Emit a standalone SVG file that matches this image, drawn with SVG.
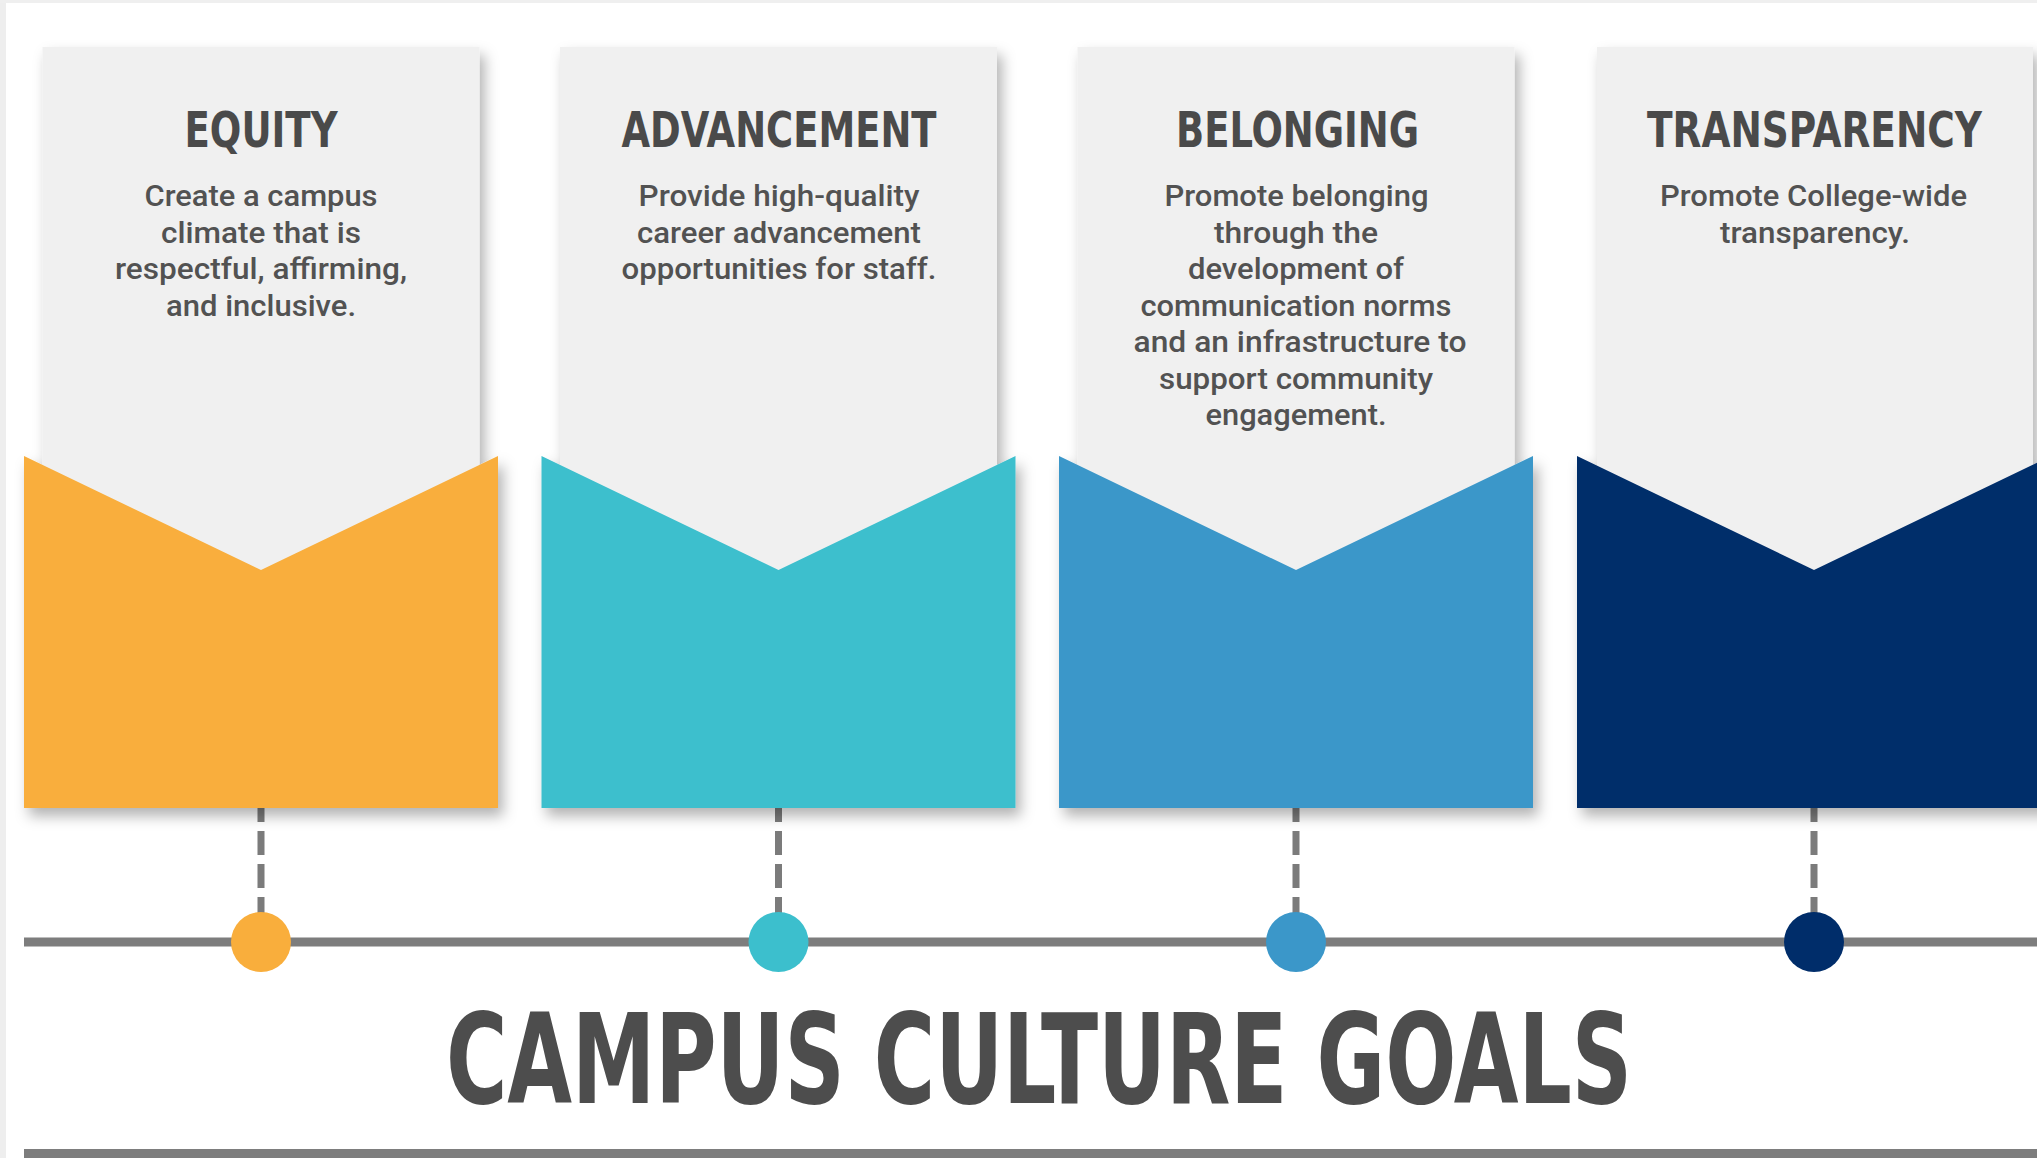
<svg xmlns="http://www.w3.org/2000/svg" width="2037" height="1158" viewBox="0 0 2037 1158">
<style>
.panel{fill:#f0f0f0}
.head{font-family:"DejaVu Sans Condensed","Liberation Sans Narrow","DejaVu Sans",sans-serif;font-stretch:condensed;font-weight:bold;font-size:49px;fill:#4a4a4a;text-anchor:middle}
.body{font-family:Roboto,"Liberation Sans",sans-serif;font-weight:500;font-size:30px;fill:#525252;text-anchor:middle}
.title{font-family:"DejaVu Sans Condensed","Liberation Sans Narrow","DejaVu Sans",sans-serif;font-stretch:condensed;font-weight:bold;font-size:124px;fill:#4d4d4d}
.dash{stroke:#7b7b7b;stroke-width:7;stroke-dasharray:24 9;fill:none}
.rule{stroke:#7d7d7d;stroke-width:9;fill:none}
</style>
<defs>
<filter id="sh" x="-10%" y="-10%" width="125%" height="125%">
<feDropShadow dx="5" dy="8" stdDeviation="7" flood-color="#000" flood-opacity="0.3"/>
</filter>
</defs>
<rect x="0" y="0" width="2037" height="1158" fill="#ffffff"/>
<rect x="0" y="0" width="6" height="1158" fill="#eeeeee"/>
<rect x="0" y="0" width="2037" height="3" fill="#efefef"/>

<g id="connectors">
<line class="dash" x1="261" y1="798" x2="261" y2="930"/>
<line class="dash" x1="778.5" y1="798" x2="778.5" y2="930"/>
<line class="dash" x1="1296" y1="798" x2="1296" y2="930"/>
<line class="dash" x1="1814" y1="798" x2="1814" y2="930"/>
<line class="rule" x1="24" y1="942" x2="2037" y2="942"/>
<line class="rule" x1="24" y1="1153.5" x2="2037" y2="1153.5" stroke-width="10"/>
</g>

<g id="dots">
<circle cx="261" cy="942" r="30" fill="#f9ae3c"/>
<circle cx="778.5" cy="942" r="30" fill="#3cbfcd"/>
<circle cx="1296" cy="942" r="30" fill="#3b97c9"/>
<circle cx="1814" cy="942" r="30" fill="#002d6a"/>
</g>

<g id="equity" filter="url(#sh)">
<rect class="panel" x="42.5" y="47" width="437" height="600"/>
<polygon points="24,456 261,570 498,456 498,808 24,808" fill="#f9ae3c"/>
</g>
<g id="advancement" filter="url(#sh)">
<rect class="panel" x="560" y="47" width="437" height="600"/>
<polygon points="541.5,456 778.5,570 1015.5,456 1015.5,808 541.5,808" fill="#3cbfcd"/>
</g>
<g id="belonging" filter="url(#sh)">
<rect class="panel" x="1077.5" y="47" width="437" height="600"/>
<polygon points="1059,456 1296,570 1533,456 1533,808 1059,808" fill="#3b97c9"/>
</g>
<g id="transparency" filter="url(#sh)">
<rect class="panel" x="1597" y="47" width="436" height="600"/>
<polygon points="1577,456 1814,570 2051,456 2051,808 1577,808" fill="#002d6a"/>
</g>

<g id="equity-text">
<text class="head" x="261" y="147" textLength="153" lengthAdjust="spacingAndGlyphs">EQUITY</text>
<text class="body" x="261" y="206" textLength="233" lengthAdjust="spacingAndGlyphs">Create a campus</text>
<text class="body" x="261" y="242.5" textLength="200" lengthAdjust="spacingAndGlyphs">climate that is</text>
<text class="body" x="261" y="279" textLength="292" lengthAdjust="spacingAndGlyphs">respectful, affirming,</text>
<text class="body" x="261" y="315.5" textLength="190" lengthAdjust="spacingAndGlyphs">and inclusive.</text>
</g>
<g id="advancement-text">
<text class="head" x="779" y="147" textLength="315" lengthAdjust="spacingAndGlyphs">ADVANCEMENT</text>
<text class="body" x="779" y="206" textLength="281" lengthAdjust="spacingAndGlyphs">Provide high-quality</text>
<text class="body" x="779" y="242.5" textLength="284" lengthAdjust="spacingAndGlyphs">career advancement</text>
<text class="body" x="779" y="279" textLength="315" lengthAdjust="spacingAndGlyphs">opportunities for staff.</text>
</g>
<g id="belonging-text">
<text class="head" x="1297.5" y="147" textLength="243" lengthAdjust="spacingAndGlyphs">BELONGING</text>
<text class="body" x="1296.5" y="206" textLength="264" lengthAdjust="spacingAndGlyphs">Promote belonging</text>
<text class="body" x="1296" y="242.5" textLength="164" lengthAdjust="spacingAndGlyphs">through the</text>
<text class="body" x="1296" y="279" textLength="216" lengthAdjust="spacingAndGlyphs">development of</text>
<text class="body" x="1296" y="315.5" textLength="311" lengthAdjust="spacingAndGlyphs">communication norms</text>
<text class="body" x="1300" y="352" textLength="333" lengthAdjust="spacingAndGlyphs">and an infrastructure to</text>
<text class="body" x="1296" y="388.5" textLength="274" lengthAdjust="spacingAndGlyphs">support community</text>
<text class="body" x="1296" y="425" textLength="181" lengthAdjust="spacingAndGlyphs">engagement.</text>
</g>
<g id="transparency-text">
<text class="head" x="1814.5" y="147" textLength="335" lengthAdjust="spacingAndGlyphs">TRANSPARENCY</text>
<text class="body" x="1813.5" y="206" textLength="307" lengthAdjust="spacingAndGlyphs">Promote College-wide</text>
<text class="body" x="1815" y="242.5" textLength="190" lengthAdjust="spacingAndGlyphs">transparency.</text>
</g>

<g id="title">
<text class="title" x="446" y="1103" textLength="1186" lengthAdjust="spacingAndGlyphs">CAMPUS CULTURE GOALS</text>
</g>
</svg>
